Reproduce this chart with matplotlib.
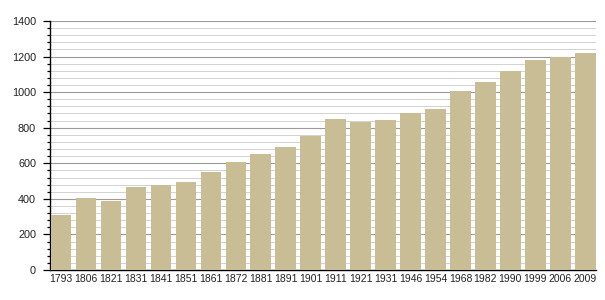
import matplotlib
matplotlib.use("Agg")
import matplotlib.pyplot as plt
from matplotlib.ticker import MultipleLocator

years = ["1793", "1806", "1821", "1831", "1841", "1851", "1861", "1872", "1881", "1891",
         "1901", "1911", "1921", "1931", "1946", "1954", "1968", "1982", "1990", "1999",
         "2006", "2009"]
population = [310, 404, 390, 465, 478, 493, 552, 607, 652, 690,
              755, 849, 832, 841, 881, 905, 1006, 1057, 1117, 1180,
              1199, 1218]

plt.rcParams['font.family'] = ['Liberation Sans', 'DejaVu Sans']

fig = plt.figure(figsize=(6.05, 3.0), dpi=100)
ax = fig.add_axes([50/605, 0.1, 546/605, 0.83])

x = list(range(len(years)))
ax.bar(x, population, width=0.82, color='#c9bd95', zorder=3)

ax.set_xlim(-0.44, len(years) - 1 + 0.43)
ax.set_ylim(0, 1400)
ax.yaxis.set_major_locator(MultipleLocator(200))
ax.yaxis.set_minor_locator(MultipleLocator(40))
ax.grid(axis='y', which='major', color='#9a9a9a', linewidth=0.8, zorder=0)
ax.grid(axis='y', which='minor', color='#d2d2d2', linewidth=0.7, zorder=0)
ax.set_axisbelow(True)

ax.set_xticks(x)
ax.set_xticklabels(years)
ax.tick_params(axis='x', length=0, labelsize=7.5, pad=3, colors='#222222')
ax.tick_params(axis='y', which='major', length=5, width=0.9, labelsize=7.8, pad=5, colors='black')
ax.tick_params(axis='y', which='minor', length=2.5, width=0.9)
for lab in ax.get_yticklabels():
    lab.set_color('#222222')

for s in ['top', 'right']:
    ax.spines[s].set_visible(False)
ax.spines['left'].set_linewidth(1.0)
ax.spines['bottom'].set_linewidth(1.0)

fig.savefig("out.png", dpi=100)
